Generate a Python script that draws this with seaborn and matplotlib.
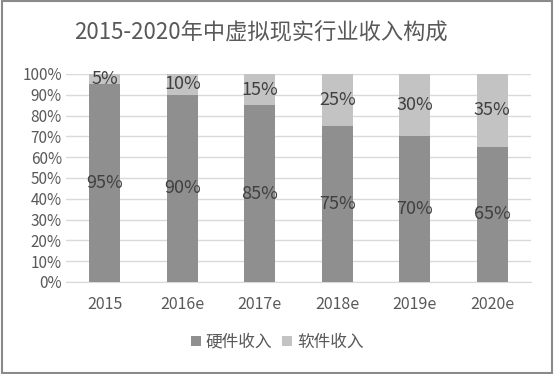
import pandas as pd
import seaborn as sns
import matplotlib.pyplot as plt
from matplotlib.patches import Rectangle

years = ['2015', '2016e', '2017e', '2018e', '2019e', '2020e']
hardware = [95, 90, 85, 75, 70, 65]
software = [5, 10, 15, 25, 30, 35]

df = pd.DataFrame({'year': years, 'hardware': hardware, 'software': software})

sns.set_style('white')
plt.rcParams['font.family'] = ['Noto Sans CJK SC', 'DejaVu Sans']

fig = plt.figure(figsize=(5.54, 3.74), dpi=100)
ax = fig.add_axes([66 / 554, 1 - 282 / 374, 465 / 554, 208 / 374])

hw_color = '#8f8f8f'
sw_color = '#c3c3c3'

sns.barplot(x='year', y='hardware', data=df, color=hw_color, width=0.4,
            saturation=1, ax=ax, label='硬件收入', linewidth=0, zorder=3)
sns.barplot(x='year', y='software', data=df, color=sw_color, width=0.4,
            saturation=1, ax=ax, label='软件收入', linewidth=0,
            bottom=df['hardware'], zorder=3)

for cont in ax.containers:
    ax.bar_label(cont, labels=[f'{v:.0f}%' for v in cont.datavalues],
                 label_type='center', fontsize=13, color='#404040')

ax.set_ylim(0, 100)
ax.set_yticks(range(0, 101, 10))
ax.set_yticklabels([f'{v}%' for v in range(0, 101, 10)])
ax.yaxis.grid(True, color='#d9d9d9', linewidth=1, zorder=0)
ax.set_axisbelow(True)
ax.set_xlabel('')
ax.set_ylabel('')
ax.tick_params(axis='both', length=0, colors='#595959')
ax.tick_params(axis='x', pad=10, labelsize=11.5)
ax.tick_params(axis='y', pad=3, labelsize=11)
sns.despine(ax=ax, left=True, bottom=False)
ax.spines['bottom'].set_color('#d9d9d9')

leg = ax.legend(loc='center', bbox_to_anchor=(0.454, -0.29), ncol=2, frameon=False,
                fontsize=12, handlelength=0.6, handleheight=0.6, handletextpad=0.3,
                columnspacing=0.6)
for t in leg.get_texts():
    t.set_color('#595959')

fig.text(261 / 554, 1 - 33 / 374, '2015-2020年中虚拟现实行业收入构成', ha='center',
         va='center', fontsize=16, color='#595959')

fig.patches.append(Rectangle((0.004, 0.004), 0.992, 0.992, transform=fig.transFigure,
                             fill=False, edgecolor='#8a8a8a', linewidth=1.5))

fig.savefig('out.png', dpi=100)
